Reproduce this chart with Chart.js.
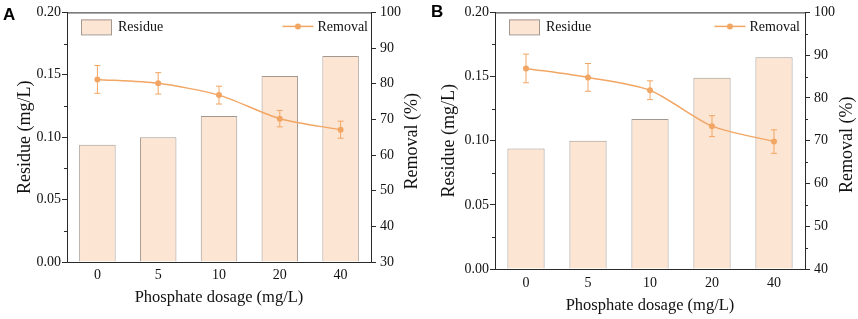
<!DOCTYPE html>
<html>
<head>
<meta charset="utf-8">
<script src="https://cdn.jsdelivr.net/npm/chart.js@4/dist/chart.umd.min.js"></script>
<style>
  body { margin: 0; background: #fff; width: 858px; height: 319px; overflow: hidden; position: relative; }
  .panel { position: absolute; top: 0; width: 430px; height: 319px; }
</style>
</head>
<body>
<div class="panel" style="left:0"><canvas id="chartA"></canvas></div>
<div class="panel" style="left:428px"><canvas id="chartB"></canvas></div>
<script>
// Phosphate dosage categories (mg/L)
const categories = ['0', '5', '10', '20', '40'];

// Panel A
const residueA = [0.094, 0.100, 0.117, 0.149, 0.165];
const removalA = [81.2, 80.1, 76.8, 70.2, 67.1];
const errorA = [3.9, 3.0, 2.5, 2.3, 2.4];

// Panel B
const residueB = [0.094, 0.100, 0.117, 0.149, 0.165];
const removalB = [86.9, 84.8, 81.8, 73.4, 69.8];
const errorB = [3.35, 3.25, 2.2, 2.45, 2.75];

const removalRangeA = [30, 100];
const removalRangeB = [40, 100];

const SERIF = '"Liberation Serif", "Times New Roman", serif';
const BAR_FILL = '#fde5d4';
const BAR_EDGE = '#a39890';
const ORANGE = '#f2a664';
const AXIS = '#2a2a2a';
const TEXT = '#111';

Chart.defaults.font.family = SERIF;
Chart.defaults.color = TEXT;

// draws error bars for the line dataset
const errorBars = {
    id: 'errorBars',
    afterDatasetsDraw(chart, args, opts) {
        const ctx = chart.ctx;
        const meta = chart.getDatasetMeta(0);
        const y1 = chart.scales.y1;
        const vals = chart.data.datasets[0].data;
        ctx.save();
        ctx.strokeStyle = ORANGE;
        ctx.lineWidth = 1;
        meta.data.forEach((pt, i) => {
            const top = y1.getPixelForValue(vals[i] + opts.err[i]);
            const bot = y1.getPixelForValue(vals[i] - opts.err[i]);
            ctx.beginPath();
            ctx.moveTo(pt.x, top); ctx.lineTo(pt.x, bot);
            ctx.moveTo(pt.x - 3, top); ctx.lineTo(pt.x + 3, top);
            ctx.moveTo(pt.x - 3, bot); ctx.lineTo(pt.x + 3, bot);
            ctx.stroke();
        });
        ctx.restore();
    }
};

// hide minor tick marks from the grid and draw them shorter
const minorTick = c => (c.tick && c.tick.label === '') ? 'rgba(0,0,0,0)' : AXIS;

// frame top line, minor ticks, in-plot legend, right axis title, panel letter
const decor = {
    id: 'decor',
    afterDraw(chart, args, opts) {
        const ctx = chart.ctx;
        const a = chart.chartArea;
        ctx.save();
        ctx.strokeStyle = AXIS;
        ctx.lineWidth = 1;
        ctx.beginPath();
        ctx.moveTo(a.left, a.top + 0.5);
        ctx.lineTo(a.right, a.top + 0.5);
        ['y', 'y1'].forEach(id => {
            const s = chart.scales[id];
            s.ticks.forEach((t, i) => {
                if (t.label !== '') return;
                const py = Math.round(s.getPixelForTick(i)) + 0.5;
                if (id === 'y') { ctx.moveTo(a.left - 3, py); ctx.lineTo(a.left, py); }
                else { ctx.moveTo(a.right, py); ctx.lineTo(a.right + 3, py); }
            });
        });
        ctx.stroke();

        // legend
        const ly = a.top + 14;
        ctx.fillStyle = BAR_FILL;
        ctx.fillRect(a.left + 14, a.top + 7, 30, 15);
        ctx.strokeStyle = BAR_EDGE;
        ctx.strokeRect(a.left + 14.5, a.top + 7.5, 30, 15);
        ctx.fillStyle = TEXT;
        ctx.font = '14px ' + SERIF;
        ctx.textBaseline = 'middle';
        ctx.textAlign = 'left';
        ctx.fillText(chart.data.datasets[1].label, a.left + 51, ly + 1);
        ctx.textAlign = 'right';
        const rx = a.right - opts.legendRight;
        ctx.fillText(chart.data.datasets[0].label, rx, ly + 1);
        const tw = ctx.measureText(chart.data.datasets[0].label).width;
        const lx = rx - tw;
        ctx.strokeStyle = ORANGE;
        ctx.lineWidth = 1.5;
        ctx.beginPath();
        ctx.moveTo(lx - 35, ly); ctx.lineTo(lx - 4, ly);
        ctx.stroke();
        ctx.fillStyle = ORANGE;
        ctx.beginPath();
        ctx.arc(lx - 19.5, ly, 3, 0, Math.PI * 2);
        ctx.fill();

        // right axis title (reads bottom to top)
        ctx.fillStyle = TEXT;
        ctx.font = '18px ' + SERIF;
        ctx.textAlign = 'center';
        ctx.translate(opts.rightTitleX, (a.top + a.bottom) / 2 + 4);
        ctx.rotate(-Math.PI / 2);
        ctx.fillText('Removal (%)', 0, 0);
        ctx.restore();

        ctx.save();
        ctx.fillStyle = '#000';
        ctx.font = 'bold 17px "Liberation Sans", Arial, sans-serif';
        ctx.textBaseline = 'alphabetic';
        ctx.fillText(opts.letter, opts.letterX, opts.letterY);
        ctx.restore();
    }
};

function makePanel(id, residue, removal, err, range, L) {
    new Chart(document.getElementById(id), {
        data: {
            labels: categories,
            datasets: [
                {
                    type: 'line',
                    label: 'Removal',
                    data: removal,
                    yAxisID: 'y1',
                    order: 0,
                    borderColor: ORANGE,
                    borderWidth: 1.5,
                    pointRadius: 3,
                    pointBorderWidth: 0,
                    pointBackgroundColor: ORANGE,
                    tension: 0.25
                },
                {
                    type: 'bar',
                    label: 'Residue',
                    data: residue,
                    yAxisID: 'y',
                    order: 1,
                    backgroundColor: BAR_FILL,
                    borderColor: BAR_EDGE,
                    borderWidth: 1,
                    barPercentage: 0.6,
                    categoryPercentage: 1
                }
            ]
        },
        options: {
            responsive: true,
            maintainAspectRatio: false,
            animation: false,
            layout: { padding: { top: L.top, left: 0, right: 0, bottom: 0 } },
            plugins: {
                legend: { display: false },
                tooltip: { enabled: false },
                decor: { legendRight: L.legendRight, rightTitleX: L.rightTitleX, letter: L.letter, letterX: L.letterX, letterY: L.letterY },
                errorBars: { err: err }
            },
            scales: {
                x: {
                    offset: true,
                    grid: { display: false, drawTicks: false },
                    border: { display: true, color: AXIS },
                    ticks: { font: { size: 14 }, padding: L.xTickPad, color: TEXT },
                    title: { display: true, text: 'Phosphate dosage (mg/L)', font: { size: 16.5 }, padding: { top: 0, bottom: L.xTitlePad }, color: TEXT },
                    afterFit: s => { s.height = L.xHeight; }
                },
                y: {
                    position: 'left',
                    min: 0, max: 0.2,
                    grid: { drawOnChartArea: false, tickLength: 5, color: AXIS, tickColor: minorTick },
                    border: { color: AXIS },
                    ticks: {
                        stepSize: 0.025, padding: 1, font: { size: 14 }, color: TEXT,
                        callback: v => Math.round(v * 1000) % 50 === 0 ? v.toFixed(2) : ''
                    },
                    title: { display: true, text: 'Residue (mg/L)', font: { size: 18 }, padding: { top: L.yTitlePad, bottom: 0 }, color: TEXT },
                    afterFit: s => { s.width = L.yWidth; }
                },
                y1: {
                    position: 'right',
                    min: range[0], max: range[1],
                    grid: { drawOnChartArea: false, tickLength: 5, color: AXIS, tickColor: minorTick },
                    border: { color: AXIS },
                    ticks: {
                        stepSize: 5, padding: 4, font: { size: 14 }, color: TEXT,
                        callback: v => v % 10 === 0 ? v : ''
                    },
                    afterFit: s => { s.width = L.y1Width; }
                }
            }
        },
        plugins: [errorBars, decor]
    });
}

makePanel('chartA', residueA, removalA, errorA, removalRangeA, {
    top: 8, yWidth: 67, y1Width: 59, xHeight: 57, xTickPad: 5, xTitlePad: 11,
    yTitlePad: 14, rightTitleX: 412, legendRight: 3, letter: 'A', letterX: 3, letterY: 20
});
makePanel('chartB', residueB, removalB, errorB, removalRangeB, {
    top: 9, yWidth: 67, y1Width: 53, xHeight: 50, xTickPad: 6, xTitlePad: 3,
    yTitlePad: 10, rightTitleX: 419, legendRight: 5, letter: 'B', letterX: 3, letterY: 17
});
</script>
</body>
</html>
